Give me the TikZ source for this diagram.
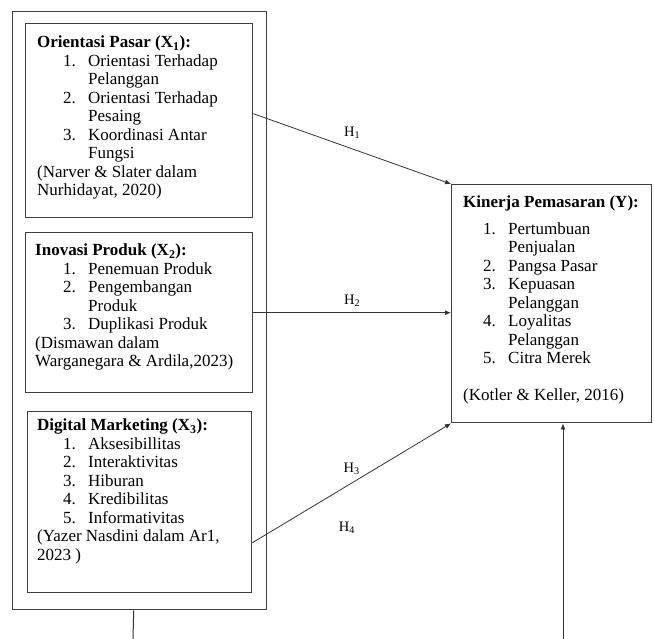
\documentclass[tikz,border=0pt]{standalone}
\usepackage{fontspec}
\setmainfont{Liberation Serif}
\usetikzlibrary{arrows.meta, positioning, calc}

\newcommand{\itm}[3][26pt]{\hspace*{#1}\makebox[25pt][l]{#2}#3}

\begin{document}
\begin{tikzpicture}[
    x=1pt, y=-1pt,
    varbox/.style={draw=black!75, line width=1.4pt, anchor=north west, inner sep=0pt},
    vartext/.style={anchor=north west, inner sep=0pt, align=left,
                    font=\fontsize{17}{18.5}\selectfont},
    link/.style={draw=black!80, line width=0.8pt, -{Latex[length=6pt,width=5pt]}},
    hlabel/.style={font=\fontsize{14.5}{15}\selectfont, inner sep=0pt}
]
\useasboundingbox (0,0) rectangle (654,639);
\node[varbox, minimum width=254pt, minimum height=598pt] (outer) at (12,11) {};
\node[varbox, minimum width=227pt, minimum height=194pt] (x1) at (25,23) {};
\node[varbox, minimum width=227pt, minimum height=160pt] (x2) at (25,232) {};
\node[varbox, minimum width=224pt, minimum height=181pt] (x3) at (27,411) {};
\node[varbox, minimum width=200pt, minimum height=238pt] (y) at (451,184) {};

\node[vartext, below right=13pt and 12pt of x1.north west] (x1t) {%
    \textbf{Orientasi Pasar (X\textsubscript{1}):}\\
    \itm{1.}{Orientasi Terhadap}\\
    \itm{}{Pelanggan}\\
    \itm{2.}{Orientasi Terhadap}\\
    \itm{}{Pesaing}\\
    \itm{3.}{Koordinasi Antar}\\
    \itm{}{Fungsi}\\
    (Narver \& Slater dalam\\
    Nurhidayat, 2020)};
\node[vartext, below right=12pt and 10pt of x2.north west] (x2t) {%
    \textbf{Inovasi Produk (X\textsubscript{2}):}\\
    \itm[28pt]{1.}{Penemuan Produk}\\
    \itm[28pt]{2.}{Pengembangan}\\
    \itm[28pt]{}{Produk}\\
    \itm[28pt]{3.}{Duplikasi Produk}\\
    (Dismawan dalam\\
    Warganegara \& Ardila,2023)};
\node[vartext, below right=8pt and 10pt of x3.north west] (x3t) {%
    \textbf{Digital Marketing (X\textsubscript{3}):}\\
    \itm{1.}{Aksesibillitas}\\
    \itm{2.}{Interaktivitas}\\
    \itm{3.}{Hiburan}\\
    \itm{4.}{Kredibilitas}\\
    \itm{5.}{Informativitas}\\
    (Yazer Nasdini dalam Ar1,\\
    2023 )};
\node[vartext, below right=12pt and 12pt of y.north west] (yt) {%
    \textbf{Kinerja Pemasaran (Y):}\\[8pt]
    \itm[20pt]{1.}{Pertumbuan}\\
    \itm[20pt]{}{Penjualan}\\
    \itm[20pt]{2.}{Pangsa Pasar}\\
    \itm[20pt]{3.}{Kepuasan}\\
    \itm[20pt]{}{Pelanggan}\\
    \itm[20pt]{4.}{Loyalitas}\\
    \itm[20pt]{}{Pelanggan}\\
    \itm[20pt]{5.}{Citra Merek}\\[18.5pt]
    (Kotler \& Keller, 2016)};

% hipotesis
\draw[link] ([yshift=7pt]x1.east) -- node[hlabel, above=10pt] (h1) {H\textsubscript{1}} (y.north west);
\draw[link] (x2.east) -- node[hlabel, above=6pt] (h2) {H\textsubscript{2}} (x2.east -| y.west);
\draw[link] ([yshift=-40.5pt]x3.east) -- node[hlabel, above=8pt] (h3) {H\textsubscript{3}} (y.south west);
\node[hlabel] (h4) at (347,528) {H\textsubscript{4}};

\coordinate (b1) at (133,639);
\coordinate (b2) at (563,639);
\draw[draw=black!80, line width=1pt] ([xshift=-6pt]outer.south) -- (b1);
\draw[link] (b2) -- (b2 |- y.south);
\end{tikzpicture}
\end{document}
